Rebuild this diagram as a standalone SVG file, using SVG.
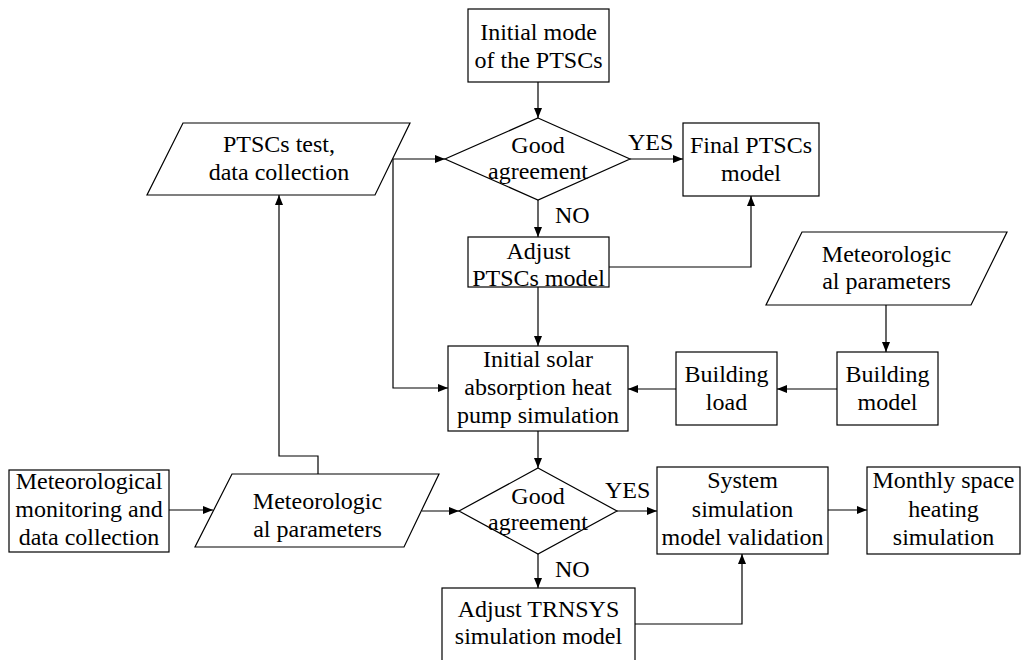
<svg xmlns="http://www.w3.org/2000/svg" width="1021" height="660" viewBox="0 0 1021 660">
<defs>
<marker id="arr" viewBox="0 0 10 8" refX="10" refY="4" markerWidth="10" markerHeight="8" markerUnits="userSpaceOnUse" orient="auto">
<path d="M0,0 L10,4 L0,8 z" fill="#000"/>
</marker>
<style>
.s{fill:#fff;stroke:#000;stroke-width:1.2}
.t{font-family:"Liberation Serif","Times New Roman",serif;font-size:24px;fill:#000;text-anchor:middle}
.l{font-family:"Liberation Serif","Times New Roman",serif;font-size:24px;fill:#000}
.c{fill:none;stroke:#000;stroke-width:1.2;marker-end:url(#arr)}
.n{fill:none;stroke:#000;stroke-width:1.2}
</style>
</defs>
<rect width="1021" height="660" fill="#fff"/>
<g id="connectors">
<path class="c" d="M538,82 V118"/>
<path class="c" d="M630,159 H683"/>
<path class="c" d="M538,200 V237"/>
<path class="c" d="M609,267 H751 V196"/>
<path class="c" d="M538,287 V346"/>
<path class="c" d="M393,159 H445"/>
<path class="c" d="M393,159 V388 H448"/>
<path class="c" d="M886,305 V352"/>
<path class="c" d="M837,389 H777"/>
<path class="c" d="M676,389 H628"/>
<path class="c" d="M538,431 V468"/>
<path class="c" d="M169,510 H213"/>
<path class="c" d="M318,474 V456 H279 V195"/>
<path class="c" d="M422,511 H459"/>
<path class="c" d="M617,511 H657"/>
<path class="c" d="M538,554 V588"/>
<path class="c" d="M635,624 H742 V554"/>
<path class="c" d="M828,510 H867"/>
<text class="l" x="628" y="150">YES</text>
<text class="l" x="555" y="223">NO</text>
<text class="l" x="605" y="498">YES</text>
<text class="l" x="555" y="577">NO</text>
</g>
<g id="initial-mode">
<rect class="s" x="468" y="9" width="141" height="73"/>
<text class="t" x="538.5" y="40">Initial mode</text>
<text class="t" x="538.5" y="68">of the PTSCs</text>
</g>
<g id="decision-1">
<polygon class="s" points="538,118 630,159 538,200 445,159"/>
<text class="t" x="538" y="153">Good</text>
<text class="t" x="538" y="179">agreement</text>
</g>
<g id="final-ptscs">
<rect class="s" x="683" y="123" width="136" height="73"/>
<text class="t" x="751" y="153">Final PTSCs</text>
<text class="t" x="751" y="181">model</text>
</g>
<g id="ptscs-test">
<polygon class="s" points="183,123 410,123 375,195 147,195"/>
<text class="t" x="279" y="152">PTSCs test,</text>
<text class="t" x="279" y="180">data collection</text>
</g>
<g id="adjust-ptscs">
<rect class="s" x="468" y="237" width="141" height="50"/>
<text class="t" x="538.5" y="259">Adjust</text>
<text class="t" x="538.5" y="286">PTSCs model</text>
</g>
<g id="met-params-1">
<polygon class="s" points="802,232 1007,232 971,305 766,305"/>
<text class="t" x="886.5" y="262">Meteorologic</text>
<text class="t" x="886.5" y="289">al parameters</text>
</g>
<g id="initial-solar">
<rect class="s" x="448" y="346" width="180" height="85"/>
<text class="t" x="538" y="367">Initial solar</text>
<text class="t" x="538" y="395">absorption heat</text>
<text class="t" x="538" y="423">pump simulation</text>
</g>
<g id="building-load">
<rect class="s" x="676" y="352" width="101" height="73"/>
<text class="t" x="726.5" y="382">Building</text>
<text class="t" x="726.5" y="410">load</text>
</g>
<g id="building-model">
<rect class="s" x="837" y="352" width="101" height="73"/>
<text class="t" x="887.5" y="382">Building</text>
<text class="t" x="887.5" y="410">model</text>
</g>
<g id="met-monitoring">
<rect class="s" x="9" y="470" width="160" height="82"/>
<text class="t" x="89" y="489">Meteorological</text>
<text class="t" x="89" y="517">monitoring and</text>
<text class="t" x="89" y="545">data collection</text>
</g>
<g id="met-params-2">
<polygon class="s" points="232,474 439,474 404,547 195,547"/>
<text class="t" x="317.5" y="509">Meteorologic</text>
<text class="t" x="317.5" y="537">al parameters</text>
</g>
<g id="decision-2">
<polygon class="s" points="538,468 617,511 538,554 459,511"/>
<text class="t" x="538" y="504">Good</text>
<text class="t" x="538" y="530">agreement</text>
</g>
<g id="system-validation">
<rect class="s" x="657" y="467" width="171" height="87"/>
<text class="t" x="742.5" y="488">System</text>
<text class="t" x="742.5" y="517">simulation</text>
<text class="t" x="742.5" y="545">model validation</text>
</g>
<g id="monthly">
<rect class="s" x="867" y="467" width="153" height="87"/>
<text class="t" x="943.5" y="488">Monthly space</text>
<text class="t" x="943.5" y="517">heating</text>
<text class="t" x="943.5" y="545">simulation</text>
</g>
<g id="adjust-trnsys">
<rect class="s" x="442" y="588" width="193" height="90"/>
<text class="t" x="538.5" y="617">Adjust TRNSYS</text>
<text class="t" x="538.5" y="644">simulation model</text>
</g>
</svg>
